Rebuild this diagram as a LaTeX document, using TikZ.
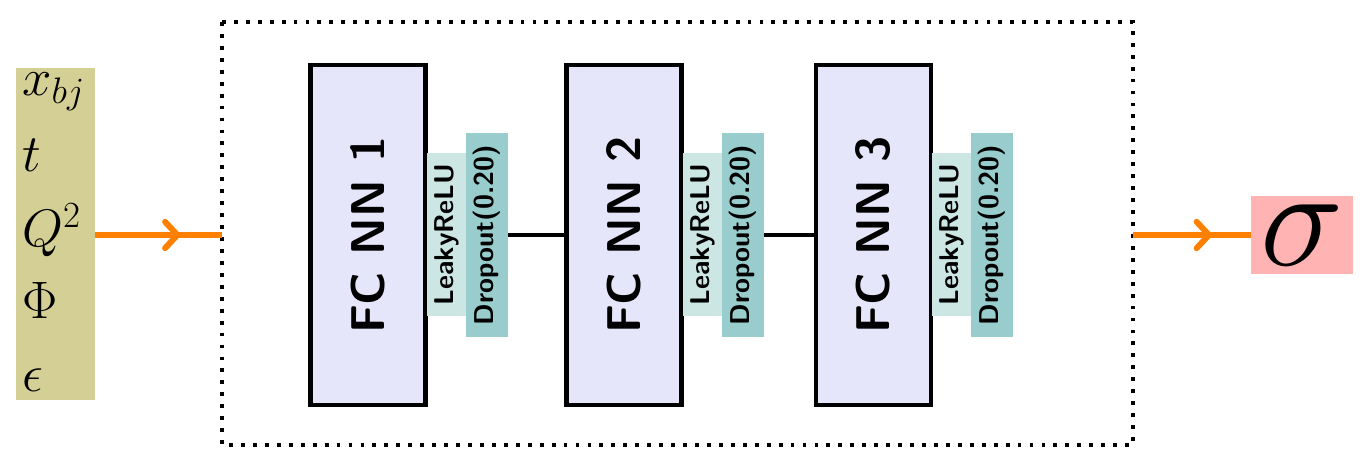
\RequirePackage{fix-cm}
\documentclass[tikz,border=0pt]{standalone}
\usetikzlibrary{arrows.meta,decorations.markings}
\definecolor{inc}{RGB}{212,207,148}
\definecolor{fcc}{RGB}{230,230,250}
\definecolor{lrc}{RGB}{204,230,228}
\definecolor{doc}{RGB}{153,204,204}
\definecolor{sgc}{RGB}{255,179,179}
\definecolor{orc}{RGB}{255,128,0}
\tikzset{
  fcbox/.style={draw=black, line width=2.8pt, fill=fcc, rotate=90, minimum width=6.8cm, minimum height=2.3cm, inner sep=0pt, font=\fontsize{27}{30}\selectfont\sffamily\bfseries},
  lrbox/.style={fill=lrc, rotate=90, minimum width=3.26cm, minimum height=0.78cm, inner sep=0pt, font=\fontsize{15.5}{17}\selectfont\sffamily\bfseries},
  dobox/.style={fill=doc, rotate=90, minimum width=4.08cm, minimum height=0.84cm, inner sep=0pt, font=\fontsize{15.5}{17}\selectfont\sffamily\bfseries},
  intext/.style={anchor=west, inner sep=0pt, font=\fontsize{30}{32}\selectfont},
  link/.style={line width=1.9pt, draw=black},
  flow/.style={line width=3.4pt, draw=orc, postaction={decorate},
    decoration={markings, mark=at position 0.68 with {\arrow{Straight Barb[length=7pt,width=15pt,line width=3.4pt,line cap=round]}}}},
  dotframe/.style={line width=2.2pt, dash pattern=on 2.2pt off 4.6pt},
}
\begin{document}
\begin{tikzpicture}[x=0.02cm,y=-0.02cm]
\useasboundingbox (0,0) rectangle (1366,465);
% input box
\node[fill=inc, minimum width=1.58cm, minimum height=6.64cm, inner sep=0pt] (inp) at (55.5,234) {};
\node[intext] (i1) at (22,92) {$x_{bj}$};
\node[intext] (i2) at (22,155) {$t$};
\node[intext] (i3) at (22,230) {$Q^2$};
\node[intext] (i4) at (22,300) {$\Phi$};
\node[intext] (i5) at (22,380) {$\epsilon$};
% frame
\draw[dotframe] (222,22) rectangle (1133,445);
\coordinate (fin) at (222,235);
\coordinate (fout) at (1133,235);
% FC blocks
\node[fcbox] (f1) at (368,235) {FC NN 1};
\node[lrbox] (l1) at (446.5,234.5) {LeakyReLU};
\node[dobox] (d1) at (487,235) {Dropout(0.20)};
\node[fcbox] (f2) at (624,235) {FC NN 2};
\node[lrbox] (l2) at (702.5,234.5) {LeakyReLU};
\node[dobox] (d2) at (743,235) {Dropout(0.20)};
\node[fcbox] (f3) at (873.5,235) {FC NN 3};
\node[lrbox] (l3) at (951.5,234.5) {LeakyReLU};
\node[dobox] (d3) at (991.5,235) {Dropout(0.20)};
\draw[link] (d1) -- (f2);
\draw[link] (d2) -- (f3);
% output
\node[fill=sgc, minimum width=2.04cm, minimum height=1.56cm, inner sep=0pt, font=\fontsize{80}{80}\selectfont] (out) at (1302,235) {$\sigma$};
\draw[flow] (inp.east |- fin) -- (fin);
\draw[flow] (fout) -- (out.west);
\end{tikzpicture}
\end{document}
